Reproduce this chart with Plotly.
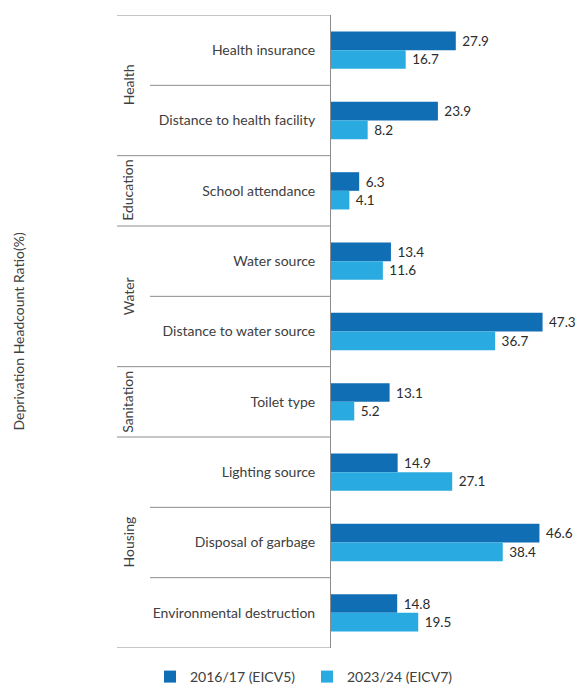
import plotly.graph_objects as go

# Deprivation indicators, top to bottom, with the dimension each belongs to
indicators = [
    "Health insurance",
    "Distance to health facility",
    "School attendance",
    "Water source",
    "Distance to water source",
    "Toilet type",
    "Lighting source",
    "Disposal of garbage",
    "Environmental destruction",
]
dimensions = ["Health", "Education", "Water", "Sanitation", "Housing"]
dimension_sizes = [2, 1, 2, 1, 3]

eicv5 = [27.9, 23.9, 6.3, 13.4, 47.3, 13.1, 14.9, 46.6, 14.8]
eicv7 = [16.7, 8.2, 4.1, 11.6, 36.7, 5.2, 27.1, 38.4, 19.5]

series_names = ["2016/17 (EICV5)", "2023/24 (EICV7)"]
colors = ["#106EB5", "#29ABE2"]

FONT = "Lato"
TEXT = "#404040"
LINE = "#8C8C8C"

W, H = 579, 686
ML, MR, MT, MB = 331, 2, 15, 38
plot_w = W - ML - MR
plot_h = H - MT - MB


def px_to_paper_x(px):
    return (px - ML) / plot_w


fig = go.Figure()
for name, vals, col in zip(series_names, [eicv5, eicv7], colors):
    fig.add_trace(go.Bar(
        y=indicators, x=vals, name=name, orientation="h",
        marker=dict(color=col, line=dict(width=0)),
        text=vals, texttemplate="\u00a0%{x:.1f}",
        textposition="outside", constraintext="none", cliponaxis=False,
        textfont=dict(family=FONT, size=13.5, color="#2B2B2B"),
    ))

shapes = []
# boundaries between dimensions (long lines) and between indicators (short lines)
edges = [0]
for s in dimension_sizes:
    edges.append(edges[-1] + s)
x_long = px_to_paper_x(117)
x_short = px_to_paper_x(150)
for e in edges:
    shapes.append(dict(type="line", xref="paper", yref="y", x0=x_long, x1=0,
                       y0=e - 0.5, y1=e - 0.5, line=dict(color=LINE, width=1)))
for i in range(1, len(indicators)):
    if i not in edges:
        shapes.append(dict(type="line", xref="paper", yref="y", x0=x_short, x1=0,
                           y0=i - 0.5, y1=i - 0.5, line=dict(color=LINE, width=1)))

annotations = []
for d, (a, b) in zip(dimensions, zip(edges[:-1], edges[1:])):
    annotations.append(dict(
        text=d, xref="paper", yref="y", x=0, xshift=128 - ML,
        y=(a + b - 1) / 2, textangle=-90, showarrow=False,
        xanchor="center", yanchor="middle",
        font=dict(family=FONT, size=14, color=TEXT),
    ))
annotations.append(dict(
    text="Deprivation Headcount Ratio(%)", xref="paper", yref="paper",
    x=0, xshift=18 - ML, y=0.5, textangle=-90, showarrow=False,
    xanchor="center", yanchor="middle",
    font=dict(family=FONT, size=14, color=TEXT),
))

fig.update_layout(
    width=W, height=H,
    margin=dict(l=ML, r=MR, t=MT, b=MB, autoexpand=False),
    paper_bgcolor="white", plot_bgcolor="white",
    barmode="group", bargap=0.47, bargroupgap=0,
    showlegend=True,
    legend=dict(orientation="h", x=px_to_paper_x(150), xanchor="left",
                y=-(677 - (H - MB)) / plot_h, yanchor="middle",
                font=dict(family=FONT, size=14, color=TEXT),
                itemwidth=30, entrywidth=112, entrywidthmode="pixels",
                itemclick=False, traceorder="normal"),
    xaxis=dict(range=[0, 55], visible=False, fixedrange=True),
    yaxis=dict(range=[len(indicators) - 0.5, -0.5], showline=True,
               linecolor=LINE, linewidth=1, ticks="", showgrid=False,
               ticklabelstandoff=12,
               tickfont=dict(family=FONT, size=14, color=TEXT)),
    shapes=shapes, annotations=annotations,
)

fig.write_html("out.html")
